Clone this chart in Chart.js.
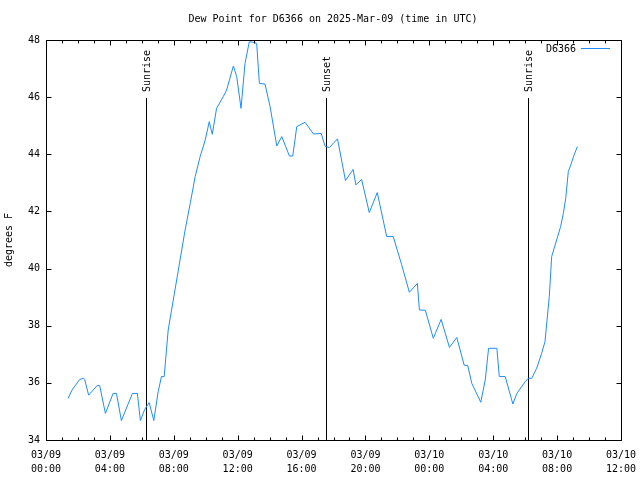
<!DOCTYPE html>
<html>
<head>
<meta charset="utf-8">
<script src="https://cdn.jsdelivr.net/npm/chart.js@4.4.1/dist/chart.umd.min.js"></script>
<style>
  html, body { margin: 0; padding: 0; background: #fff; }
</style>
</head>
<body>
<canvas id="chart" width="640" height="480"></canvas>
<script>
// hours since 03/09 00:00 UTC
var hours = [1.39, 1.63, 2.11, 2.35, 2.42, 2.67, 3.21, 3.36, 3.72, 4.2, 4.41, 4.72, 5.41, 5.72, 5.91,
  6.18, 6.46, 6.75, 7.02, 7.23, 7.4, 7.65, 8.71, 9.03, 9.34, 9.65, 9.97, 10.22, 10.41, 10.68, 11.1,
  11.31, 11.73, 11.94, 12.21, 12.46, 12.73, 12.98, 13.19, 13.36, 13.71, 14.03, 14.45, 14.76, 15.24,
  15.45, 15.7, 16.22, 16.75, 17.23, 17.48, 17.75, 18.25, 18.75, 19.23, 19.4, 19.76, 20.24, 20.74,
  21.33, 21.74, 22.27, 22.75, 23.25, 23.38, 23.75, 24.25, 24.74, 25.26, 25.72, 26.18, 26.41, 26.66,
  27.22, 27.5, 27.71, 28.23, 28.38, 28.75, 29.23, 29.48, 30.0, 30.2, 30.41, 30.72, 31.03, 31.24,
  31.51, 31.66, 31.97, 32.22, 32.39, 32.54, 32.7, 32.85, 33.06, 33.27];
var dewpoint = [35.46, 35.75, 36.12, 36.16, 36.12, 35.57, 35.91, 35.91, 34.93, 35.63, 35.63, 34.68, 35.63, 35.63, 34.68,
  35.07, 35.31, 34.68, 35.69, 36.22, 36.22, 37.85, 41.35, 42.28, 43.22, 43.92, 44.5, 45.14, 44.7, 45.61, 46.02,
  46.25, 47.09, 46.72, 45.61, 47.18, 47.94, 47.92, 47.88, 46.48, 46.46, 45.67, 44.29, 44.62, 43.94,
  43.94, 44.97, 45.12, 44.71, 44.73, 44.27, 44.24, 44.54, 43.08, 43.47, 42.93, 43.12, 41.96, 42.66,
  41.12, 41.12, 40.13, 39.17, 39.48, 38.55, 38.54, 37.56, 38.22, 37.24, 37.59, 36.62, 36.6, 35.98,
  35.32, 36.1, 37.21, 37.21, 36.22, 36.22, 35.26, 35.63, 36.04, 36.16, 36.16, 36.51, 37.03, 37.44,
  39.02, 40.42, 41.0, 41.47, 41.93, 42.46, 43.39, 43.62, 43.97, 44.27];

var xTicks = [0, 4, 8, 12, 16, 20, 24, 28, 32, 36];
var xTickDays = ['03/09', '03/09', '03/09', '03/09', '03/09', '03/09', '03/10', '03/10', '03/10', '03/10'];
var xTickTimes = ['00:00', '04:00', '08:00', '12:00', '16:00', '20:00', '00:00', '04:00', '08:00', '12:00'];
var yTicks = [34, 36, 38, 40, 42, 44, 46, 48];

var sunLabels = ['Sunrise', 'Sunset', 'Sunrise'];
var sunHours = [6.23, 17.56, 30.2];

var stationName = 'D6366';
var chartTitle = 'Dew Point for D6366 on 2025-Mar-09 (time in UTC)';
var yTitle = 'degrees F';

var FONT = "10px 'DejaVu Sans Mono', monospace";
var LINE_COLOR = '#1e8cff';

var points = [];
for (var i = 0; i < hours.length; i++) {
    points.push({x: hours[i], y: dewpoint[i]});
}

// gnuplot-like frame: border, inward ticks, sun markers, titles, legend
var frame = {
    id: 'frame',
    beforeDatasetsDraw: function(chart) {
        var ctx = chart.ctx;
        var xs = chart.scales.x;
        var a = chart.chartArea;
        ctx.save();
        ctx.strokeStyle = '#000';
        ctx.lineWidth = 1;
        ctx.fillStyle = '#000';
        ctx.font = FONT;
        for (var i = 0; i < sunHours.length; i++) {
            var x = Math.round(xs.getPixelForValue(sunHours[i])) + 0.5;
            ctx.beginPath();
            ctx.moveTo(x, 98);
            ctx.lineTo(x, a.bottom);
            ctx.stroke();
            ctx.save();
            ctx.translate(x + 1, 92);
            ctx.rotate(-Math.PI / 2);
            ctx.textAlign = 'left';
            ctx.textBaseline = 'middle';
            ctx.fillText(sunLabels[i], 0, 0);
            ctx.restore();
        }
        ctx.restore();
    },
    afterDraw: function(chart) {
        var ctx = chart.ctx;
        var xs = chart.scales.x;
        var ys = chart.scales.y;
        var a = chart.chartArea;
        var l = Math.round(a.left) + 0.5, r = Math.round(a.right) + 0.5;
        var t = Math.round(a.top) + 0.5, b = Math.round(a.bottom) + 0.5;
        ctx.save();
        ctx.strokeStyle = '#000';
        ctx.lineWidth = 1;
        ctx.strokeRect(l, t, r - l, b - t);

        ctx.beginPath();
        for (var h = 0; h <= 36; h++) {
            var x = Math.round(xs.getPixelForValue(h)) + 0.5;
            var len = (h % 4 === 0) ? 5 : 3;
            ctx.moveTo(x, b); ctx.lineTo(x, b - len);
            ctx.moveTo(x, t); ctx.lineTo(x, t + len);
        }
        for (var j = 0; j < yTicks.length; j++) {
            var y = Math.round(ys.getPixelForValue(yTicks[j])) + 0.5;
            ctx.moveTo(l, y); ctx.lineTo(l + 5, y);
            ctx.moveTo(r, y); ctx.lineTo(r - 5, y);
        }
        ctx.stroke();

        ctx.fillStyle = '#000';
        ctx.font = FONT;
        ctx.textAlign = 'center';
        ctx.textBaseline = 'middle';
        ctx.fillText(chartTitle, 333, 19);

        ctx.save();
        ctx.translate(9, 240);
        ctx.rotate(-Math.PI / 2);
        ctx.fillText(yTitle, 0, 0);
        ctx.restore();

        // legend
        ctx.textAlign = 'right';
        ctx.fillText(stationName, 576, 49);
        ctx.strokeStyle = LINE_COLOR;
        ctx.beginPath();
        ctx.moveTo(581, 48.5);
        ctx.lineTo(610, 48.5);
        ctx.stroke();
        ctx.restore();
    }
};

var chart = new Chart(document.getElementById('chart'), {
    type: 'line',
    data: {
        datasets: [{
            label: stationName,
            data: points,
            borderColor: LINE_COLOR,
            borderWidth: 1,
            pointRadius: 0,
            tension: 0,
            fill: false
        }]
    },
    options: {
        responsive: false,
        animation: false,
        devicePixelRatio: 1,
        layout: {
            padding: {left: 0, right: 19, top: 40, bottom: 0}
        },
        plugins: {
            legend: {display: false},
            title: {display: false},
            tooltip: {enabled: false}
        },
        scales: {
            x: {
                type: 'linear',
                min: 0,
                max: 36,
                afterFit: function(scale) {
                    scale.height = 40;
                    scale.paddingLeft = 0;
                    scale.paddingRight = 0;
                },
                afterBuildTicks: function(scale) {
                    scale.ticks = xTicks.map(function(v) { return {value: v}; });
                },
                grid: {display: false, drawTicks: false, tickLength: 0},
                border: {display: false},
                ticks: {
                    autoSkip: false,
                    maxRotation: 0,
                    padding: 8,
                    color: '#000',
                    font: {family: "'DejaVu Sans Mono', monospace", size: 10, lineHeight: 1.4},
                    callback: function(value) {
                        var i = xTicks.indexOf(value);
                        return i >= 0 ? [xTickDays[i], xTickTimes[i]] : '';
                    }
                }
            },
            y: {
                type: 'linear',
                min: 34,
                max: 48,
                afterFit: function(scale) {
                    scale.width = 46;
                    scale.paddingTop = 0;
                    scale.paddingBottom = 0;
                },
                afterBuildTicks: function(scale) {
                    scale.ticks = yTicks.map(function(v) { return {value: v}; });
                },
                grid: {display: false, drawTicks: false, tickLength: 0},
                border: {display: false},
                ticks: {
                    padding: 6,
                    color: '#000',
                    font: {family: "'DejaVu Sans Mono', monospace", size: 10}
                }
            }
        }
    },
    plugins: [frame]
});
</script>
</body>
</html>
